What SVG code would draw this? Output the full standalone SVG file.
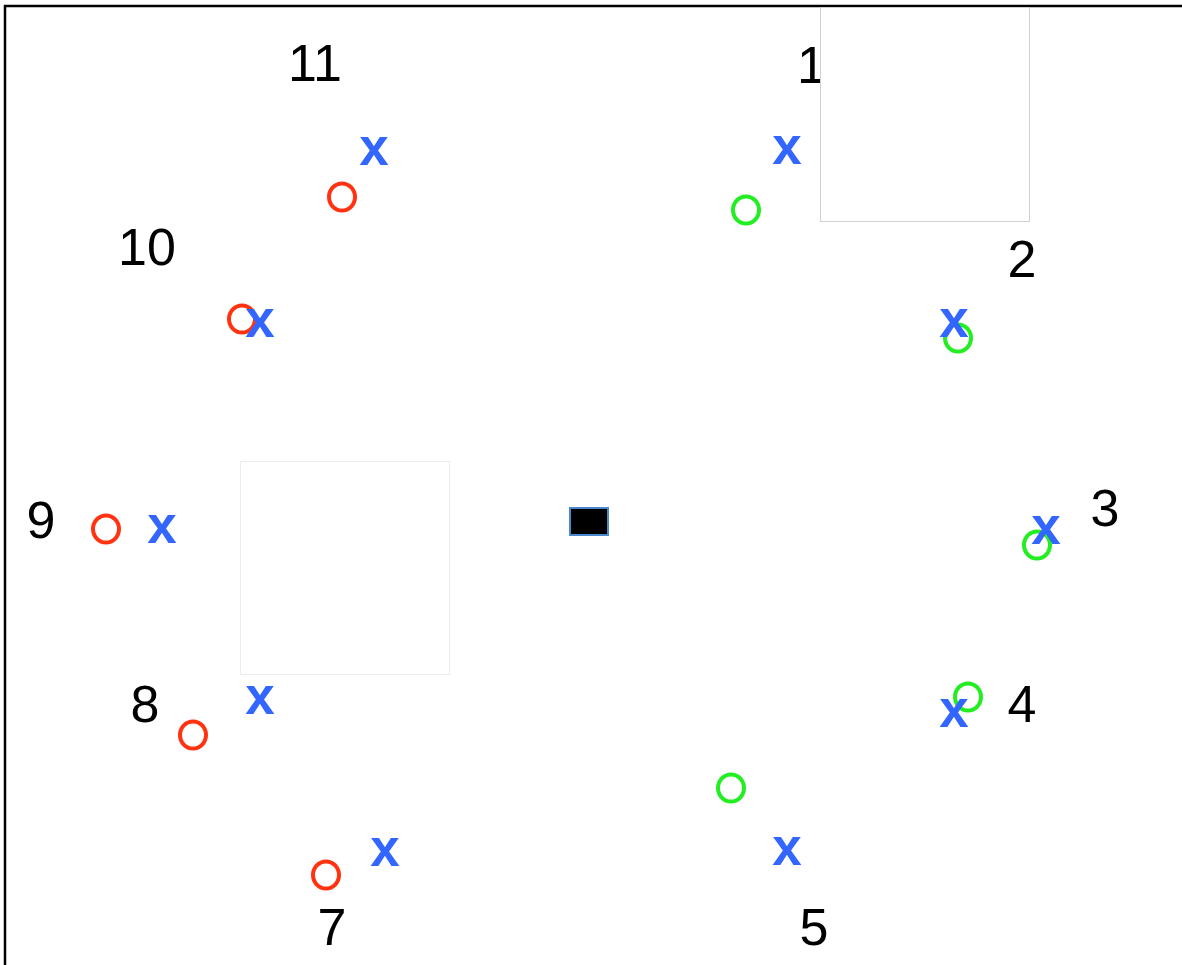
<svg xmlns="http://www.w3.org/2000/svg" width="1182" height="965" viewBox="0 0 1182 965">
<style>
.lbl{font-family:"Liberation Sans",Arial,sans-serif;font-size:52px;fill:#000;text-anchor:middle}
.x{font-family:"Liberation Sans",Arial,sans-serif;font-size:53px;font-weight:bold;fill:#3366ff;text-anchor:middle}
.og{fill:none;stroke:#22ee22;stroke-width:4}
.or{fill:none;stroke:#ff3311;stroke-width:4}
</style>
<rect id="frame" x="5" y="6" width="1400" height="1200" fill="#fff" stroke="#000" stroke-width="2.5"/>
<g id="labels">
<text class="lbl" x="315" y="81">11</text>
<text class="lbl" x="797" y="83" style="text-anchor:start">1</text>
<text class="lbl" x="147" y="265">10</text>
<text class="lbl" x="1022" y="277">2</text>
<text class="lbl" x="41" y="538">9</text>
<text class="lbl" x="1105" y="526">3</text>
<text class="lbl" x="145" y="722">8</text>
<text class="lbl" x="1022" y="722">4</text>
<text class="lbl" x="332" y="945">7</text>
<text class="lbl" x="814" y="945">5</text>
</g>
<g id="box-top-right"><rect x="820.5" y="7.5" width="209" height="214" fill="#fff" stroke="#d0d0d0" stroke-width="1"/></g>
<g id="box-left"><rect x="240.5" y="461.5" width="209" height="213" fill="#fff" stroke="#ececec" stroke-width="1"/></g>
<g id="center-rect"><rect x="570" y="508" width="38" height="27" fill="#000" stroke="#4a88cc" stroke-width="2"/></g>
<g id="green-circles">
<ellipse class="og" cx="746" cy="210" rx="13" ry="13.5"/>
<ellipse class="og" cx="958" cy="338" rx="13" ry="13.5"/>
<ellipse class="og" cx="1037" cy="545" rx="13" ry="13.5"/>
<ellipse class="og" cx="968" cy="697" rx="13" ry="13.5"/>
<ellipse class="og" cx="731" cy="788" rx="13" ry="13.5"/>
</g>
<g id="red-circles">
<ellipse class="or" cx="342" cy="197" rx="13" ry="13.5"/>
<ellipse class="or" cx="242" cy="319" rx="13" ry="13.5"/>
<ellipse class="or" cx="106" cy="529" rx="13" ry="13.5"/>
<ellipse class="or" cx="193" cy="735" rx="13" ry="13.5"/>
<ellipse class="or" cx="326" cy="875" rx="13" ry="13.5"/>
</g>
<g id="blue-x">
<text class="x" x="374" y="165">x</text>
<text class="x" x="787" y="164">x</text>
<text class="x" x="954" y="337">x</text>
<text class="x" x="1046" y="544">x</text>
<text class="x" x="954" y="727">x</text>
<text class="x" x="787" y="865">x</text>
<text class="x" x="385" y="866">x</text>
<text class="x" x="260" y="714">x</text>
<text class="x" x="162" y="543">x</text>
<text class="x" x="260" y="337">x</text>
</g>
</svg>
